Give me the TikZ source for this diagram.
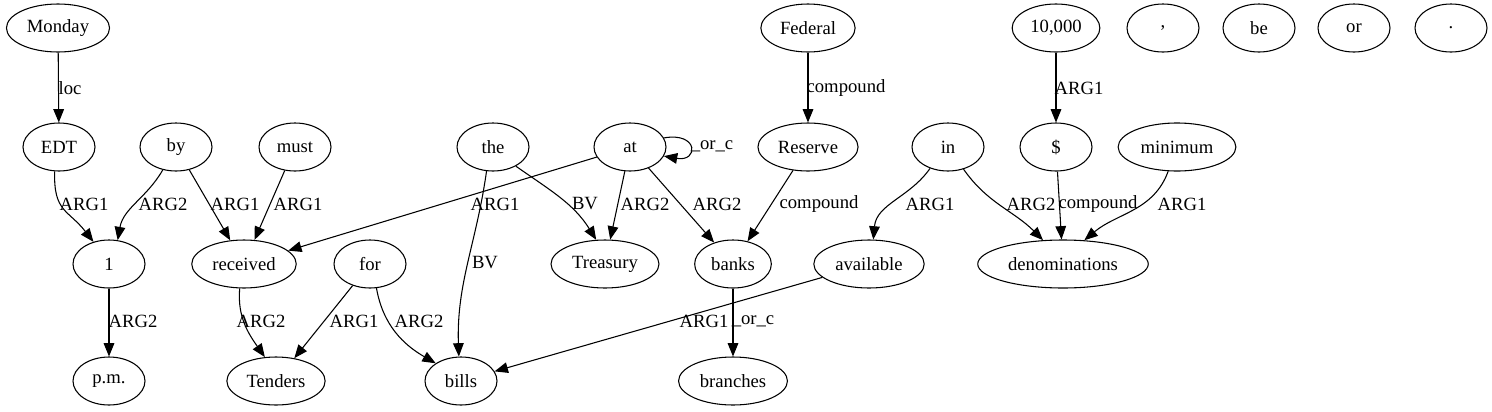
\documentclass[tikz,border=0pt]{standalone}
\usepackage{fontspec}
\setmainfont{Liberation Serif}
\usetikzlibrary{shapes.geometric,arrows.meta}
\tikzset{word/.style={ellipse, draw, line width=0.8pt, minimum width=54pt, minimum height=36pt, inner xsep=4pt, font=\fontsize{14}{16}\selectfont},
  rel/.style={-{Triangle[length=10pt,width=8pt]}, line width=0.8pt},
  lab/.style={inner sep=0pt, font=\fontsize{14}{16}\selectfont}}

\begin{document}
\begin{tikzpicture}[x=0.75pt,y=-0.75pt]
  \useasboundingbox (0,0) rectangle (1492,411);
  \node[word] (monday)  at (58,28)   {Monday};
  \node[word] (federal) at (808,28)  {Federal};
  \node[word] (tenk)    at (1056,28) {10,000};
  \node[word] (comma)   at (1163,28) {,};
  \node[word] (be)      at (1259,28) {be};
  \node[word] (or)      at (1354,28) {or};
  \node[word] (stop)    at (1451,28) {.};

  \node[word] (edt)     at (59,147)  {EDT};
  \node[word] (by)      at (176,147) {by};
  \node[word] (must)    at (295,147) {must};
  \node[word] (the)     at (493,147) {the};
  \node[word] (at)      at (630,147) {at};
  \node[word] (reserve) at (808,147) {Reserve};
  \node[word] (in)      at (948,147) {in};
  \node[word] (dollar)  at (1056,147) {\$};
  \node[word] (minimum) at (1177,147) {minimum};

  \node[word] (one)      at (109,264) {1};
  \node[word] (received) at (244,264) {received};
  \node[word] (for)      at (370,264) {for};
  \node[word] (treasury) at (605,264) {Treasury};
  \node[word] (banks)    at (733,264) {banks};
  \node[word] (available) at (869,264) {available};
  \node[word] (denom)    at (1063,264) {denominations};

  \node[word] (pm)       at (109,381) {p.m.};
  \node[word] (tenders)  at (276,381) {Tenders};
  \node[word] (bills)    at (461,381) {bills};
  \node[word] (branches) at (733,381) {branches};

  \draw[rel] (monday) -- (edt);
  \node[lab] (l1) at (70,88) {loc};
  \draw[rel] (edt.-100) to[out=-92,in=128,looseness=1.3] (one.125);
  \node[lab] (l2) at (84,204) {ARG1};
  \draw[rel] (by.-120) to[out=-120,in=80] (one.70);
  \node[lab] (l3) at (163,204) {ARG2};
  \draw[rel] (by) -- (received);
  \node[lab] (l4) at (235,204) {ARG1};
  \draw[rel] (must) -- (received);
  \node[lab] (l5) at (298,204) {ARG1};
  \draw[rel] (at) -- (received);
  \node[lab] (l6) at (495,204) {ARG1};
  \draw[rel] (the.-105) to[out=-98,in=92] (bills.95);
  \node[lab] (l7) at (485,263) {BV};
  \draw[rel] (the.-40) to[out=-35,in=122] (treasury.110);
  \node[lab] (l8) at (585,204) {BV};
  \draw[rel] (at) -- (treasury);
  \node[lab] (l9) at (645,204) {ARG2};
  \draw[rel] (at) -- (banks);
  \node[lab] (l10) at (717,204) {ARG2};
  \draw[rel] (at.15) to[out=10,in=-10,looseness=5] (at.-15);
  \node[lab] (l11) at (712,146) {\_or\_c};
  \draw[rel] (federal) -- (reserve);
  \node[lab] (l12) at (846,88) {compound};
  \draw[rel] (reserve) -- (banks);
  \node[lab] (l13) at (819,204) {compound};
  \draw[rel] (in.-130) to[out=-125,in=85] (available.80);
  \node[lab] (l14) at (930,204) {ARG1};
  \draw[rel] (in.-55) to[out=-55,in=135] (denom.130);
  \node[lab] (l15) at (1031,204) {ARG2};
  \draw[rel] (tenk) -- (dollar);
  \node[lab] (l16) at (1079,88) {ARG1};
  \draw[rel] (dollar) -- (denom);
  \node[lab] (l17) at (1098,204) {compound};
  \draw[rel] (minimum.-110) to[out=-110,in=40] (denom.48);
  \node[lab] (l18) at (1182,204) {ARG1};
  \draw[rel] (one) -- (pm);
  \node[lab] (l19) at (133,321) {ARG2};
  \draw[rel] (received.-100) to[out=-95,in=125] (tenders.115);
  \node[lab] (l20) at (261,321) {ARG2};
  \draw[rel] (for) -- (tenders);
  \node[lab] (l21) at (354,321) {ARG1};
  \draw[rel] (for.-75) to[out=-80,in=150] (bills.145);
  \node[lab] (l22) at (419,321) {ARG2};
  \draw[rel] (available) -- (bills);
  \node[lab] (l23) at (704,321) {ARG1};
  \draw[rel] (banks) -- (branches);
  \node[lab] (l24) at (753,321) {\_or\_c};
\end{tikzpicture}
\end{document}
